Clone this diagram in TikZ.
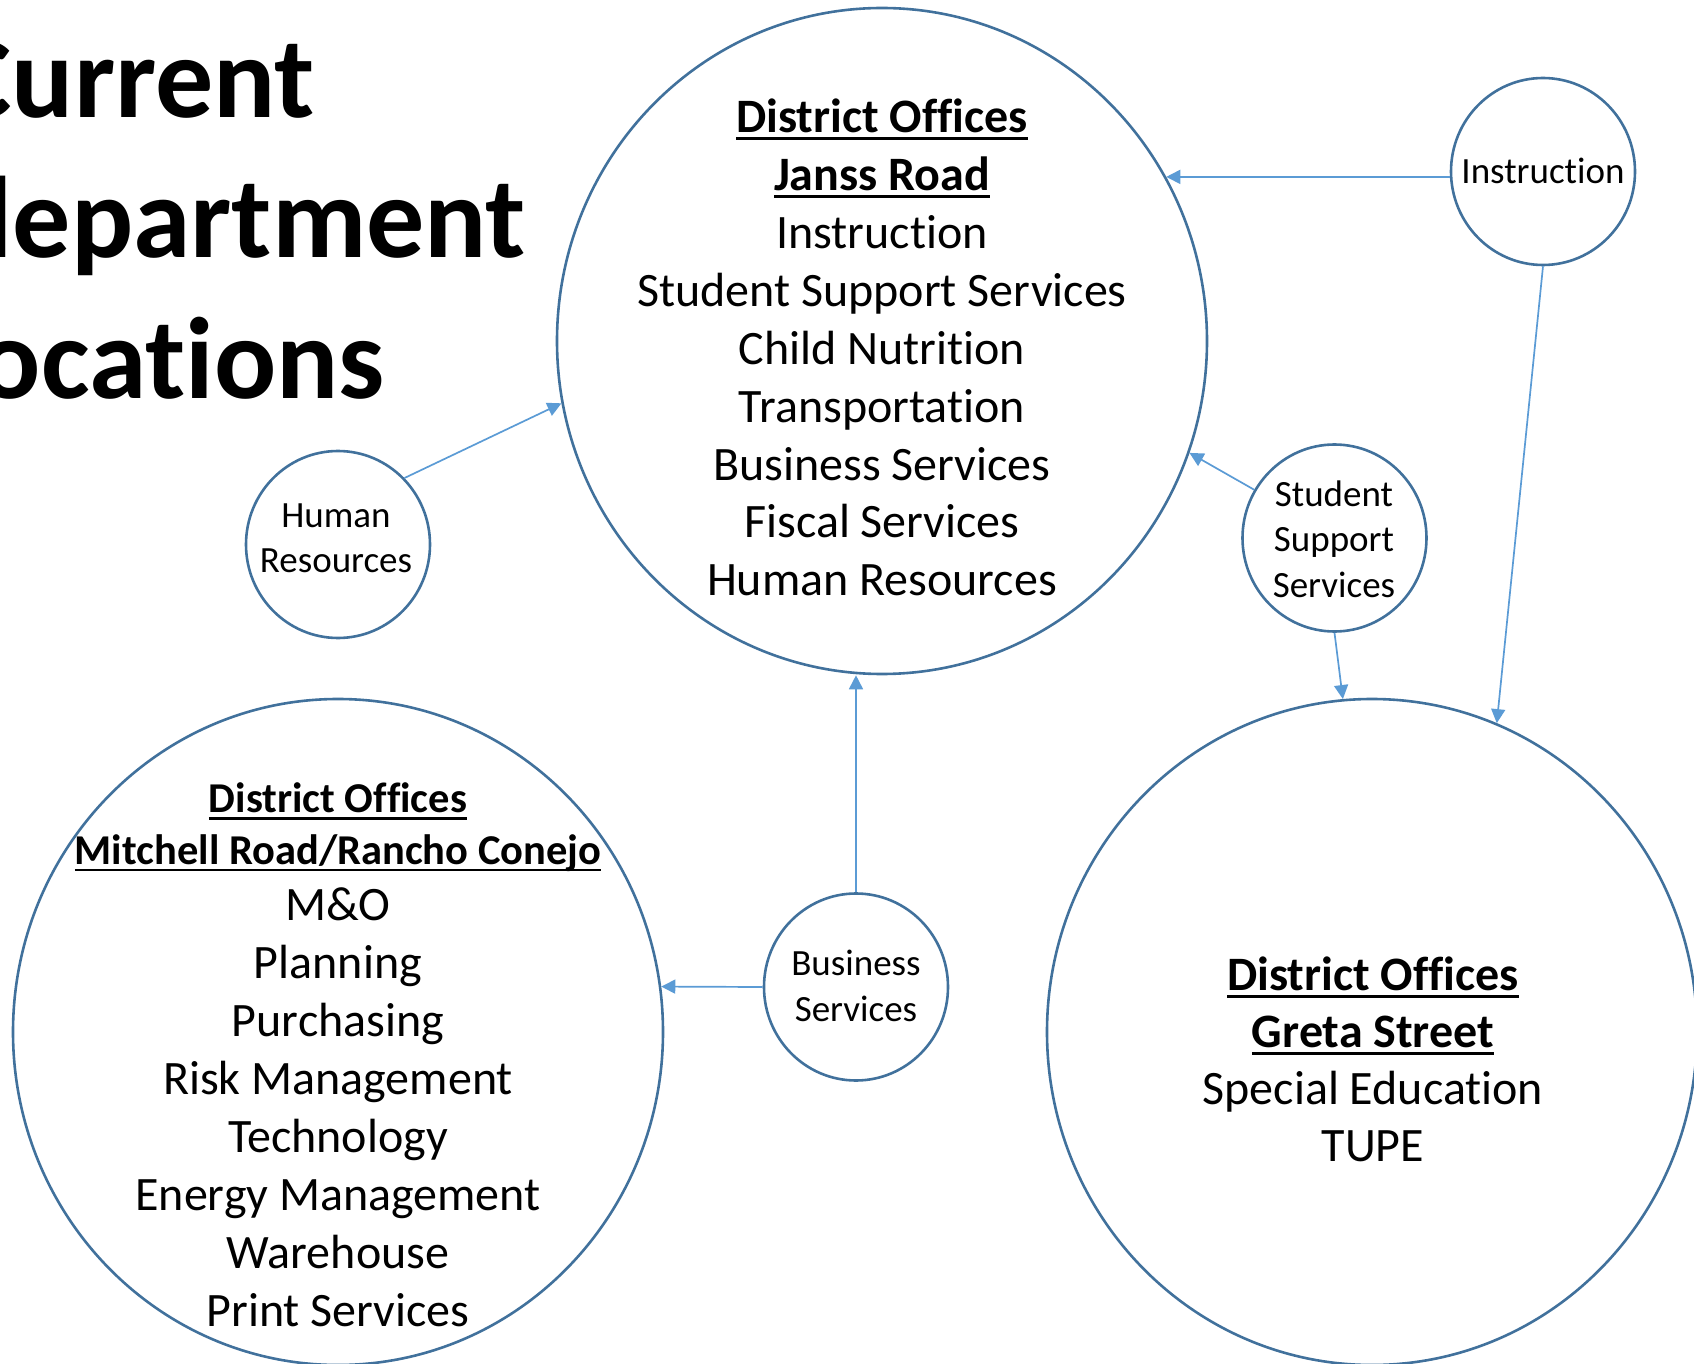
\documentclass[tikz,border=0pt]{standalone}
\usepackage{fontspec}
\setmainfont{Carlito}[Ligatures=NoCommon]
\usetikzlibrary{arrows.meta,shapes.geometric}
\definecolor{ringblue}{HTML}{41719C}
\definecolor{arrowblue}{HTML}{5B9BD5}
\newcommand{\undl}[1]{\leavevmode\setbox0=\hbox{#1}\rlap{\rule[-0.17em]{\wd0}{0.06em}}\box0}
\begin{document}
\begin{tikzpicture}[x=0.5pt,y=-0.5pt,
  bigring/.style={ellipse, draw=ringblue, line width=1.3pt, minimum width=325pt, minimum height=333pt, inner sep=0pt},
  smallring/.style={ellipse, draw=ringblue, line width=1.3pt, minimum width=92pt, minimum height=93.5pt, inner sep=0pt},
  bigtext/.style={align=center, anchor=base, inner sep=0pt, font=\fontsize{24}{29}\selectfont},
  headtext/.style={align=center, anchor=base, inner sep=0pt, font=\fontsize{21.25}{25.75}\selectfont},
  smalltext/.style={align=center, anchor=base, inner sep=0pt, font=\fontsize{18.5}{22.75}\selectfont},
  titletext/.style={anchor=base west, inner sep=0pt, font=\fontsize{58}{70}\selectfont\bfseries},
  conn/.style={draw=arrowblue, line width=0.85pt, -{Triangle[length=7pt,width=7pt]}}
]
\useasboundingbox (0,0) rectangle (1694,1364);

% title
\node[titletext] (title1) at (-50,118) {Current};
\node[titletext] (title2) at (-50,258) {department};
\node[titletext] (title3) at (-50,399) {locations};

% rings
\node[bigring] (janss) at (882,341) {};
\node[bigring] (mitchell) at (338,1032) {};
\node[bigring] (greta) at (1372,1032) {};
\node[smallring] (instr) at (1543,171.5) {};
\node[smallring] (sss) at (1334.5,538) {};
\node[smallring] (hr) at (338,544.5) {};
\node[smallring] (bus) at (856,987) {};

% texts (base anchor = baseline of the last line)
\node[bigtext] (janssT) at (882,596) {\undl{\textbf{District Offices}}\\\undl{\textbf{Janss Road}}\\Instruction\\Student Support Services\\Child Nutrition\\Transportation\\Business Services\\Fiscal Services\\Human Resources};
\node[headtext] (mitchellH) at (338,864) {\undl{\textbf{District Offices}}\\\undl{\textbf{Mitchell Road/Rancho Conejo}}};
\node[bigtext] (mitchellT) at (338,1326) {M\&O\\Planning\\Purchasing\\Risk Management\\Technology\\Energy Management\\Warehouse\\Print Services};
\node[bigtext, font=\fontsize{24}{28.5}\selectfont] (gretaT) at (1373,1161) {\undl{\textbf{District Offices}}\\\undl{\textbf{Greta Street}}\\Special Education\\TUPE};
\node[smalltext] (instrT) at (1543,184) {Instruction};
\node[smalltext] (sssT) at (1334,597) {Student\\Support\\Services};
\node[smalltext] (hrT) at (336,572.7) {Human\\Resources};
\node[smalltext] (busT) at (856,1021) {Business\\Services};

% connectors
\draw[conn] (janss.30 -| instr.west) -- (janss.30);
\draw[conn] (instr.south) -- (greta.68);
\draw[conn] (sss.149) -- (janss.340);
\draw[conn] (sss.south) -- (greta.95);
\draw[conn] (hr.45) -- (janss.191);
\draw[conn] (bus.north) -- (bus.north |- janss.south);
\draw[conn] (bus.west) -- (mitchell.8);
\end{tikzpicture}
\end{document}
